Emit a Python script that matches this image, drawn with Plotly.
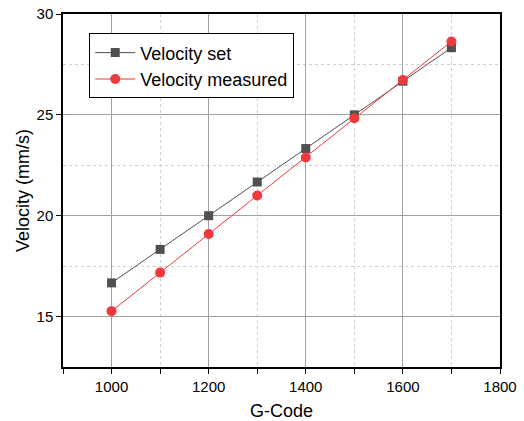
import plotly.graph_objects as go

g_code = [1000, 1100, 1200, 1300, 1400, 1500, 1600, 1700]
velocity_set = [16.67, 18.33, 20.0, 21.67, 23.33, 25.0, 26.67, 28.33]
velocity_measured = [15.27, 17.18, 19.09, 21.0, 22.89, 24.83, 26.73, 28.64]

fig = go.Figure()
fig.add_trace(go.Scatter(x=g_code, y=velocity_set, mode="lines+markers",
                         name="Velocity set",
                         line=dict(color="#505050", width=1),
                         marker=dict(symbol="square", size=9, color="#505050")))
fig.add_trace(go.Scatter(x=g_code, y=velocity_measured, mode="lines+markers",
                         name="Velocity measured",
                         line=dict(color="#f0393c", width=1),
                         marker=dict(symbol="circle", size=10, color="#f0393c")))

fig.update_layout(
    width=524, height=421,
    margin=dict(l=63, r=24, t=14, b=54),
    plot_bgcolor="white", paper_bgcolor="white",
    font=dict(family="Liberation Sans, Arial, sans-serif", size=15, color="black"),
    legend=dict(x=0.06, y=0.945, xanchor="left", yanchor="top",
                bordercolor="black", borderwidth=1, bgcolor="white",
                font=dict(size=18), tracegroupgap=0, itemwidth=40),
)
fig.update_xaxes(
    range=[900, 1800], dtick=200, tick0=1000, automargin=False,
    ticklabeloverflow="allow",
    ticks="outside", ticklen=5, tickcolor="black",
    showline=True, linecolor="black", linewidth=1.5, mirror=True,
    showgrid=True, gridcolor="#a0a0a0", gridwidth=1,
    minor=dict(dtick=100, tick0=900, ticks="outside", ticklen=5, tickcolor="black",
               showgrid=True, gridcolor="#d0d0d0", griddash="dot"),
    title=dict(text="G-Code", font=dict(size=18), standoff=11),
    zeroline=False,
)
fig.update_yaxes(
    range=[12.5, 30], dtick=5, tick0=15, automargin=False,
    ticklabeloverflow="allow",
    ticks="outside", ticklen=5, tickcolor="black",
    showline=True, linecolor="black", linewidth=1.5, mirror=True,
    showgrid=True, gridcolor="#a0a0a0", gridwidth=1,
    minor=dict(dtick=2.5, tick0=12.5, showgrid=True, gridcolor="#d0d0d0", griddash="dot"),
    title=dict(text="Velocity (mm/s)", font=dict(size=18), standoff=2),
    zeroline=False,
)

# drop the default 8px body margin so the figure sits at the window corner
fig.write_html("out.html", config={"displayModeBar": False},
               post_script="document.body.style.margin='0';")
